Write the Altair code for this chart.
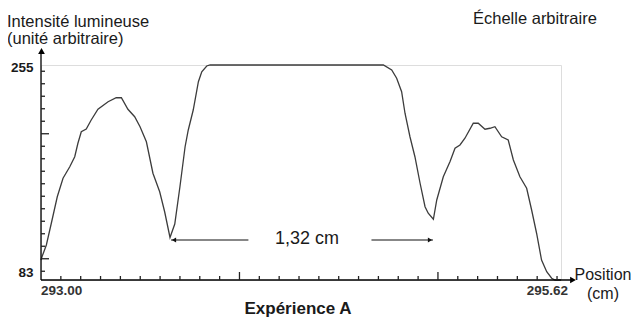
import altair as alt
import pandas as pd

# ---- data ----
positions = [293.000, 293.005, 293.027, 293.052, 293.082, 293.111, 293.145, 293.170, 293.186, 293.203,
             293.228, 293.253, 293.287, 293.338, 293.379, 293.405, 293.438, 293.472, 293.499, 293.531,
             293.564, 293.598, 293.623, 293.650, 293.674, 293.700, 293.726, 293.742, 293.767, 293.793,
             293.810, 293.835, 293.852, 294.725, 294.767, 294.792, 294.817, 294.834, 294.859, 294.884,
             294.910, 294.935, 294.951, 294.977, 294.994, 295.027, 295.061, 295.086, 295.111, 295.136,
             295.178, 295.203, 295.237, 295.262, 295.287, 295.321, 295.354, 295.380, 295.413, 295.447,
             295.472, 295.497, 295.522, 295.548, 295.573, 295.590, 295.620]
intensities = [99.0, 101.6, 111.0, 128.4, 149.6, 164.4, 173.6, 181.6, 192.4, 201.6,
               203.8, 211.0, 219.6, 225.6, 228.8, 228.8, 219.6, 213.6, 205.6, 193.6,
               168.4, 153.6, 137.6, 117.0, 127.8, 157.6, 189.6, 203.0, 219.0, 241.6,
               249.6, 254.2, 255.0, 255.0, 251.0, 244.4, 233.6, 216.4, 197.6, 181.6,
               160.4, 141.6, 136.4, 131.6, 147.0, 165.6, 177.8, 188.4, 191.0, 196.4,
               208.4, 208.4, 203.6, 204.4, 205.6, 197.6, 195.0, 179.0, 165.6, 156.4,
               139.0, 120.4, 99.0, 89.6, 84.4, 83.0, 83.0]
assert len(positions) == len(intensities)

x_domain = [293.00, 295.62]
y_domain = [83, 255]

x_minor_ticks = [round(293.0 + 0.1 * i, 2) for i in range(1, 27) if i not in (10, 20)]
x_major_ticks = [294.0, 295.0]
y_minor_ticks = [v for v in range(90, 260, 10) if v not in (100, 200)]
y_major_ticks = [100, 200]

x_tick_labels = ["293.00", "295.62"]
x_tick_label_values = [293.00, 295.62]
y_tick_labels = ["255", "83"]
y_tick_label_values = [255, 83]

# annotation "1,32 cm"
arrow_level = 115
arrow_tips = [293.655, 294.975]
arrow_tails = [294.045, 294.665]
arrow_label = "1,32 cm"
arrow_label_x = 294.34

W, H = 520, 215
FONT = "Liberation Sans"
TXT = "#1a1a1a"
TICK = "#222222"

curve_df = pd.DataFrame({"position": positions, "intensite": intensities})

xs = alt.Scale(domain=x_domain, nice=False, zero=False)
ys = alt.Scale(domain=y_domain, nice=False, zero=False)

X = lambda f="v": alt.X(f"{f}:Q", scale=xs, axis=None)
Y = lambda f="v": alt.Y(f"{f}:Q", scale=ys, axis=None)

curve = alt.Chart(curve_df).mark_line(color="#3c3c3c", strokeWidth=1.3, interpolate="linear").encode(
    x=alt.X("position:Q", scale=xs, axis=None),
    y=alt.Y("intensite:Q", scale=ys, axis=None),
)

one = pd.DataFrame({"a": [0]})

# axes lines with arrows
y_axis_line = alt.Chart(one).mark_rule(color="black", strokeWidth=1.3).encode(
    x=alt.value(0), y=alt.value(H), y2=alt.value(-14))
y_axis_head = alt.Chart(one).mark_point(
    shape="triangle-up", filled=True, color="black", size=45, opacity=1).encode(
    x=alt.value(0.5), y=alt.value(-14))
x_axis_line = alt.Chart(one).mark_rule(color="black", strokeWidth=1.3).encode(
    x=alt.value(0), x2=alt.value(532), y=alt.value(H))
x_axis_head = alt.Chart(one).mark_point(
    shape="triangle-right", filled=True, color="black", size=45, opacity=1).encode(
    x=alt.value(532), y=alt.value(H))

# ticks (inward)
xt_minor = alt.Chart(pd.DataFrame({"v": x_minor_ticks})).mark_tick(
    orient="vertical", size=4, thickness=1.3, color=TICK, opacity=1).encode(
    x=X(), y=alt.value(H - 2))
xt_major = alt.Chart(pd.DataFrame({"v": x_major_ticks})).mark_tick(
    orient="vertical", size=8, thickness=1.3, color=TICK, opacity=1).encode(
    x=X(), y=alt.value(H - 4))
yt_minor = alt.Chart(pd.DataFrame({"v": y_minor_ticks})).mark_tick(
    orient="horizontal", size=4, thickness=1.3, color=TICK, opacity=1).encode(
    y=Y(), x=alt.value(2))
yt_major = alt.Chart(pd.DataFrame({"v": y_major_ticks})).mark_tick(
    orient="horizontal", size=8, thickness=1.3, color=TICK, opacity=1).encode(
    y=Y(), x=alt.value(4))

# tick labels
xl_df = pd.DataFrame({"v": x_tick_label_values, "t": x_tick_labels})
xl_left = alt.Chart(xl_df.iloc[[0]]).mark_text(
    font=FONT, fontSize=13.5, fontWeight="bold", color="#333", align="left", baseline="alphabetic", dy=14.5
).encode(x=X(), y=alt.value(H), text="t:N")
xl_right = alt.Chart(xl_df.iloc[[1]]).mark_text(
    font=FONT, fontSize=13.5, fontWeight="bold", color="#333", align="right", baseline="alphabetic", dx=7, dy=14.5
).encode(x=X(), y=alt.value(H), text="t:N")
yl_df = pd.DataFrame({"v": y_tick_label_values, "t": y_tick_labels})
yl_top = alt.Chart(yl_df.iloc[[0]]).mark_text(
    font=FONT, fontSize=13.5, fontWeight="bold", color=TXT, align="right", baseline="alphabetic", dx=-7.5, dy=6.7
).encode(y=Y(), x=alt.value(0), text="t:N")
yl_bot = alt.Chart(yl_df.iloc[[1]]).mark_text(
    font=FONT, fontSize=13.5, fontWeight="bold", color=TXT, align="right", baseline="alphabetic", dx=-7.5, dy=-2.7
).encode(y=Y(), x=alt.value(0), text="t:N")

# annotation arrows
arr_df = pd.DataFrame({"tip": arrow_tips, "tail": arrow_tails, "lvl": [arrow_level] * 2})
shafts = alt.Chart(arr_df).mark_rule(color="#111", strokeWidth=1.1).encode(
    x=alt.X("tip:Q", scale=xs, axis=None), x2="tail:Q", y=alt.Y("lvl:Q", scale=ys, axis=None))
head_l = alt.Chart(arr_df.iloc[[0]]).mark_point(
    shape="triangle-left", filled=True, color="#111", size=24, opacity=1, xOffset=3).encode(
    x=alt.X("tip:Q", scale=xs, axis=None), y=alt.Y("lvl:Q", scale=ys, axis=None))
head_r = alt.Chart(arr_df.iloc[[1]]).mark_point(
    shape="triangle-right", filled=True, color="#111", size=24, opacity=1, xOffset=-3).encode(
    x=alt.X("tip:Q", scale=xs, axis=None), y=alt.Y("lvl:Q", scale=ys, axis=None))
arr_text = alt.Chart(pd.DataFrame({"x": [arrow_label_x], "y": [arrow_level], "t": [arrow_label]})).mark_text(
    font=FONT, fontSize=18, color=TXT, align="center", baseline="alphabetic", dy=3.5
).encode(x=alt.X("x:Q", scale=xs, axis=None), y=alt.Y("y:Q", scale=ys, axis=None), text="t:N")

# titles / labels
def label(txt, x, y, align="left", size=16.5, weight="normal", lh=17):
    return alt.Chart(one).mark_text(
        font=FONT, fontSize=size, fontWeight=weight, color=TXT, align=align, baseline="alphabetic",
        lineHeight=lh, text=txt
    ).encode(x=alt.value(x), y=alt.value(y))

t_y = label(["Intensité lumineuse", "(unité arbitraire)"], -34, -38.5, lh=17)
t_scale = label("Échelle arbitraire", 432, -41.5)
t_x = label(["Position", "(cm)"], 562, 215, align="center", size=16, lh=19)
t_exp = label("Expérience A", 257, 249, align="center", weight="bold", size=17)

chart = alt.layer(
    curve, y_axis_line, y_axis_head, x_axis_line, x_axis_head,
    xt_minor, xt_major, yt_minor, yt_major,
    xl_left, xl_right, yl_top, yl_bot,
    shafts, head_l, head_r, arr_text,
    t_y, t_scale, t_x, t_exp,
).properties(
    width=W, height=H,
    autosize=alt.AutoSizeParams(type="none"),
    padding={"left": 33, "top": 57, "right": 72, "bottom": 39},
).configure_view(stroke="#666", strokeWidth=1.2).configure(background="white")

chart.save("out.html", embed_options={"renderer": "svg", "actions": False})
